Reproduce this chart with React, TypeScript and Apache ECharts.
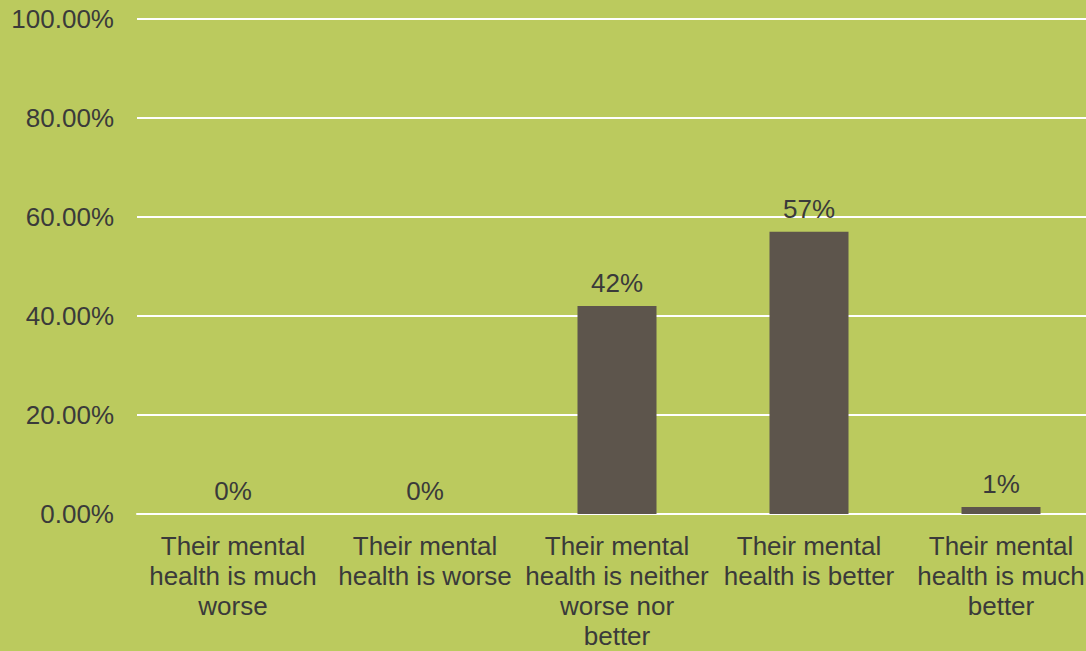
import React, { useEffect, useRef } from "react";
import * as echarts from "echarts";

const categories: string[] = [
  "Their mental\nhealth is much\nworse",
  "Their mental\nhealth is worse",
  "Their mental\nhealth is neither\nworse nor\nbetter",
  "Their mental\nhealth is better",
  "Their mental\nhealth is much\nbetter",
];
const values: number[] = [0, 0, 42, 57, 1.4];
const yTicks = { min: 0, max: 100, interval: 20 };

export default function App() {
  const ref = useRef<HTMLDivElement>(null);
  useEffect(() => {
    if (!ref.current) return;
    const chart = echarts.init(ref.current, undefined, { renderer: "svg" });
    const font = "'Liberation Sans', Arial, sans-serif";
    chart.setOption({
      animation: false,
      backgroundColor: "#BBCA5E",
      textStyle: { fontFamily: font },
      grid: { left: 137, top: 19, right: 0, bottom: 136, containLabel: false },
      xAxis: {
        type: "category",
        data: categories,
        axisLine: { show: true, lineStyle: { color: "#FFFFFF", width: 2 } },
        axisTick: { show: false },
        axisLabel: {
          interval: 0,
          color: "#3A3A3A",
          fontSize: 26,
          lineHeight: 30,
          margin: 17,
          fontFamily: font,
          align: "center",
        },
      },
      yAxis: {
        type: "value",
        min: yTicks.min,
        max: yTicks.max,
        interval: yTicks.interval,
        axisLine: { show: false },
        axisTick: { show: false },
        splitLine: { lineStyle: { color: "#FFFFFF", width: 2 } },
        axisLabel: {
          color: "#3A3A3A",
          fontSize: 26,
          margin: 23,
          fontFamily: font,
          formatter: (v: number) => v.toFixed(2) + "%",
        },
      },
      series: [
        {
          type: "bar",
          data: values,
          barWidth: 79,
          itemStyle: { color: "#5D554C" },
          label: {
            show: true,
            position: "top",
            distance: 10,
            color: "#3A3A3A",
            fontSize: 26,
            fontFamily: font,
            formatter: (p: any) => Math.round(p.value) + "%",
          },
        },
      ],
    });
    return () => chart.dispose();
  }, []);
  return (
    <div
      style={{
        position: "absolute",
        left: 0,
        top: 0,
        width: 1086,
        height: 651,
        overflow: "hidden",
        background: "#BBCA5E",
      }}
    >
      <div ref={ref} style={{ width: 1097, height: 651 }} />
    </div>
  );
}
